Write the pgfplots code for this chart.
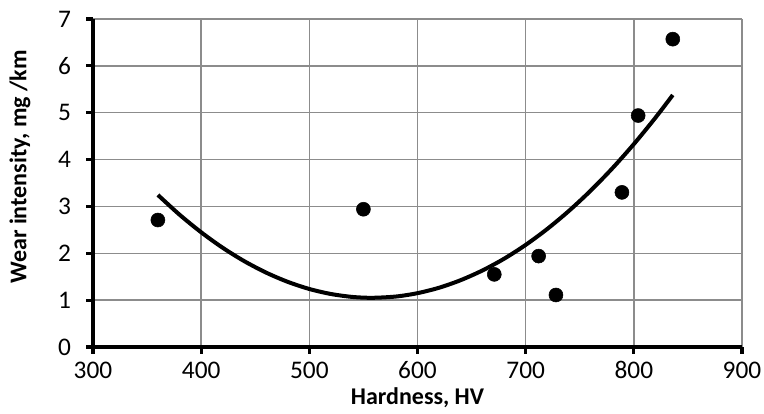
\documentclass[border=0pt]{standalone}
\usepackage{pgfplots}
\pgfplotsset{compat=1.18}
\usepackage{fontspec}
\setmainfont{Carlito}
\begin{document}
\begin{tikzpicture}
\begin{axis}[
  scale only axis,
  width=486.75pt, height=246pt,
  xmin=300, xmax=900, ymin=0, ymax=7,
  xtick={300,400,...,900}, ytick={0,1,...,7},
  axis x line*=bottom, axis y line*=left,
  axis line style={-, line width=2.4pt, black},
  grid=major,
  major grid style={line width=1.1pt, color=black!45},
  tick align=outside,
  major tick length=5pt,
  major tick style={line width=2.4pt, black},
  tick label style={font=\fontsize{19}{22}\selectfont, inner sep=1pt},
  /pgf/number format/assume math mode=true,
  /pgf/number format/1000 sep={},
  xticklabel style={yshift=-4.8pt},
  yticklabel style={xshift=-10.3pt},
  xlabel={\textbf{Hardness, HV}},
  ylabel={\textbf{Wear intensity, mg /km}},
  label style={font=\fontsize{18}{21}\selectfont, inner sep=1pt},
  xlabel style={yshift=-4pt},
  ylabel style={yshift=18.5pt, xshift=12pt},
  clip=false,
]
\addplot[only marks, mark=*, mark size=5.25pt, black] coordinates {
  (360,2.71) (550,2.94) (671,1.55) (712,1.94) (728,1.11) (789,3.30) (804,4.94) (836,6.57)
};
\addplot[line width=3pt, black, smooth] coordinates {
  (360,3.245) (380,2.824) (400,2.448) (420,2.116) (440,1.830) (460,1.588) (480,1.391)
  (500,1.238) (520,1.131) (540,1.068) (558,1.050) (580,1.077) (600,1.149) (620,1.265)
  (640,1.427) (660,1.633) (680,1.883) (700,2.179) (720,2.520) (740,2.905) (760,3.335)
  (780,3.810) (800,4.330) (820,4.894) (836,5.378)
};
\end{axis}
\path ([xshift=-69.75pt,yshift=-50.25pt]current axis.south west) rectangle ([xshift=16.5pt,yshift=14.25pt]current axis.north east);
\end{tikzpicture}
\end{document}
